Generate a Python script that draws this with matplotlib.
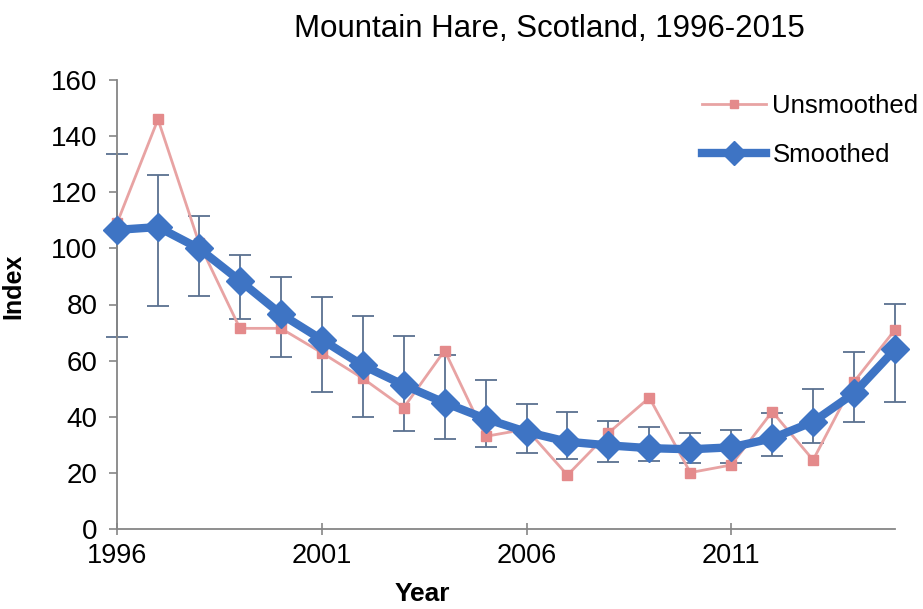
import matplotlib
matplotlib.use("Agg")
import matplotlib.pyplot as plt
import numpy as np

plt.rcParams['font.family'] = ['Liberation Sans', 'DejaVu Sans']

years = list(range(1996, 2016))
unsmoothed = [109, 146, 102, 71.5, 71.5, 62.8, 53.7, 43.2, 63.6, 33, 35.6,
              19.2, 34.2, 46.8, 20.1, 22.8, 41.8, 24.6, 52.5, 71]
smoothed = [106.6, 107.6, 100, 88.5, 76.6, 67.5, 58.3, 51.3, 45, 39.3, 34.6,
            31.1, 29.8, 28.8, 28.4, 29.1, 32.3, 38.2, 48.4, 64]
upper = [133.6, 126.2, 111.5, 97.6, 89.7, 82.6, 75.9, 68.6, 62, 53, 44.4,
         41.6, 38.6, 36.5, 34.3, 35.3, 41.5, 49.8, 63, 80.2]
lower = [68.4, 79.6, 83, 75, 61.2, 48.7, 39.8, 34.9, 32.1, 29.3, 27,
         24.9, 24, 24.3, 23.6, 23.5, 26, 30.8, 38.2, 45.4]
xticks = [1996, 2001, 2006, 2011]
yticks = [0, 20, 40, 60, 80, 100, 120, 140, 160]

fig = plt.figure(figsize=(9.23, 6.09), dpi=100)
ax = fig.add_axes([0.1268, 0.1314, 0.8429, 0.7372])

sm = np.array(smoothed)
yerr = [sm - np.array(lower), np.array(upper) - sm]
eb = ax.errorbar(years, smoothed, yerr=yerr, fmt='none', ecolor='#5a7190',
                 elinewidth=1.3, capsize=8, capthick=1.3, zorder=1)
for art in eb.lines[1] + eb.lines[2]:
    art.set_clip_on(False)
ax.plot(years, unsmoothed, color='#e8a3a3', lw=2, marker='s', ms=7,
        mfc='#e48a8b', mec='#e48a8b', label='Unsmoothed', zorder=2,
        clip_on=False)
ax.plot(years, smoothed, color='#3e74c4', lw=6, marker='D', ms=14,
        mfc='#3e74c4', mec='#3e74c4', label='Smoothed', zorder=3,
        clip_on=False)

ax.set_xlim(1996, 2015)
ax.set_ylim(0, 160)
ax.set_xticks(xticks)
ax.set_yticks(yticks)
for side in ['top', 'right']:
    ax.spines[side].set_visible(False)
for side in ['left', 'bottom']:
    ax.spines[side].set_color('#868686')
    ax.spines[side].set_linewidth(1.3)
ax.tick_params(axis='y', direction='out', length=6, width=1.2, color='#868686',
               labelsize=20, pad=8)
ax.tick_params(axis='x', direction='inout', length=8, width=1.2, color='#868686',
               labelsize=19.5, pad=6)

ax.set_xlabel('Year', fontsize=19, fontweight='bold')
ax.xaxis.set_label_coords(0.392, -0.118)
ax.set_ylabel('Index', fontsize=18, fontweight='bold')
ax.yaxis.set_label_coords(-0.118, 0.54)

fig.text(0.595, 0.953, 'Mountain Hare, Scotland, 1996-2015', fontsize=22.5,
         ha='center', va='center')

ax.legend(loc='upper right', bbox_to_anchor=(1.06, 1.02), frameon=False,
          fontsize=18.5, handlelength=2.5, handletextpad=0.25, labelspacing=0.95,
          markerscale=0.85)

fig.savefig('out.png', dpi=100)
